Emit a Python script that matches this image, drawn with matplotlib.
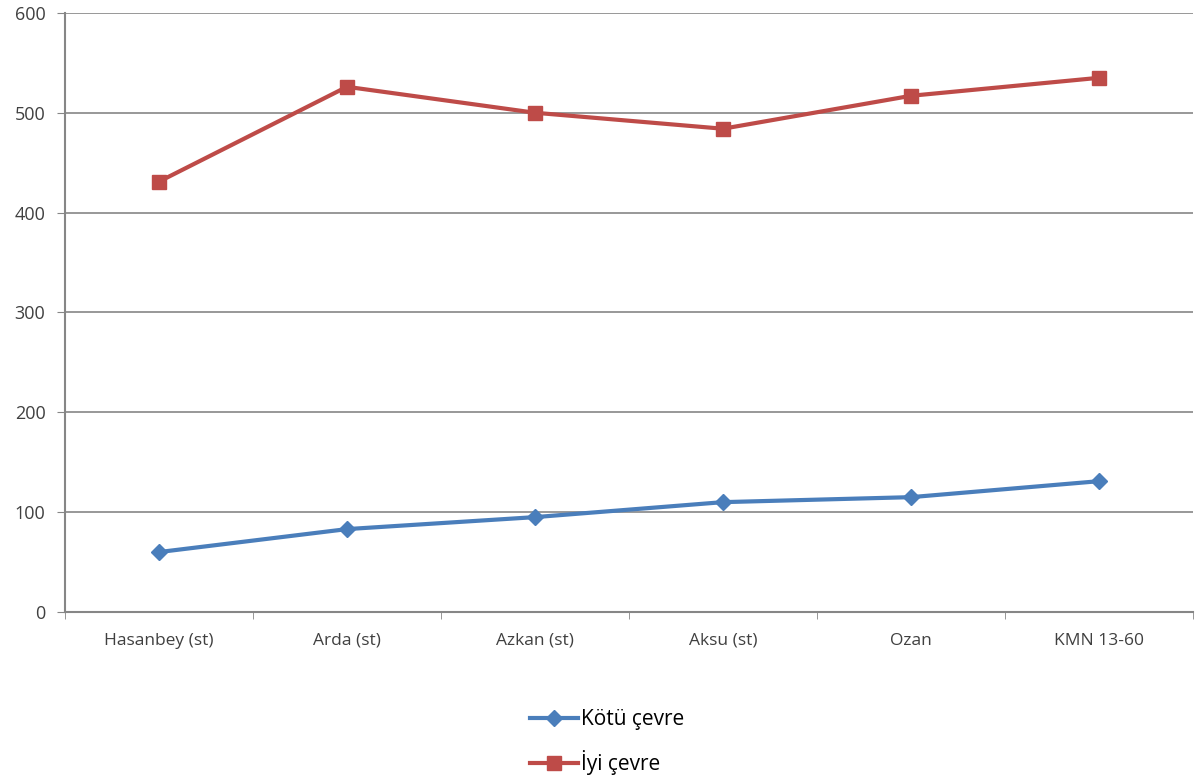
import matplotlib
matplotlib.use("Agg")
import matplotlib.pyplot as plt
from matplotlib.ticker import FixedLocator

categories = ["Hasanbey (st)", "Arda (st)", "Azkan (st)", "Aksu (st)", "Ozan", "KMN 13-60"]
kotu = [60, 83, 95, 110, 115, 131]
iyi = [431, 526, 500, 484, 517, 535]
yticks = [0, 100, 200, 300, 400, 500, 600]

plt.rcParams['font.family'] = ['Open Sans', 'DejaVu Sans']

fig = plt.figure(figsize=(11.96, 7.78), dpi=100)
ax = fig.add_axes([0.0543, 0.2134, 0.9432, 0.77])

x = list(range(len(categories)))
l1, = ax.plot(x, kotu, color="#4A7EBB", lw=3, marker="D", ms=8, label="Kötü çevre")
l2, = ax.plot(x, iyi, color="#BE4B48", lw=3, marker="s", ms=10, label="İyi çevre")

ax.set_xlim(-0.5, len(categories) - 0.5)
ax.set_ylim(0, 600)
ax.set_yticks(yticks)
ax.set_yticklabels([str(v) for v in yticks], fontsize=13, color="#404040")
ax.set_xticks(x)
ax.set_xticklabels(categories, fontsize=12.5, color="#404040")
ax.tick_params(axis='x', which='major', length=0, pad=15)
ax.xaxis.set_minor_locator(FixedLocator([i - 0.5 for i in range(len(categories) + 1)]))
ax.tick_params(axis='x', which='minor', length=5, color="#868686", direction='out')
ax.tick_params(axis='y', length=6, color="#868686", direction='out', pad=8)

ax.grid(axis='y', color="#868686", lw=1.2)
ax.set_axisbelow(True)
for s in ['top', 'right']:
    ax.spines[s].set_visible(False)
for s in ['left', 'bottom']:
    ax.spines[s].set_color("#868686")
    ax.spines[s].set_linewidth(1.5)

fig.legend(handles=[l1, l2], loc='center', bbox_to_anchor=(0.508, 0.046), ncol=1,
           frameon=False, fontsize=15, handlelength=2.3, labelspacing=0.95, handletextpad=0.15)

fig.savefig("out.png", dpi=100)
